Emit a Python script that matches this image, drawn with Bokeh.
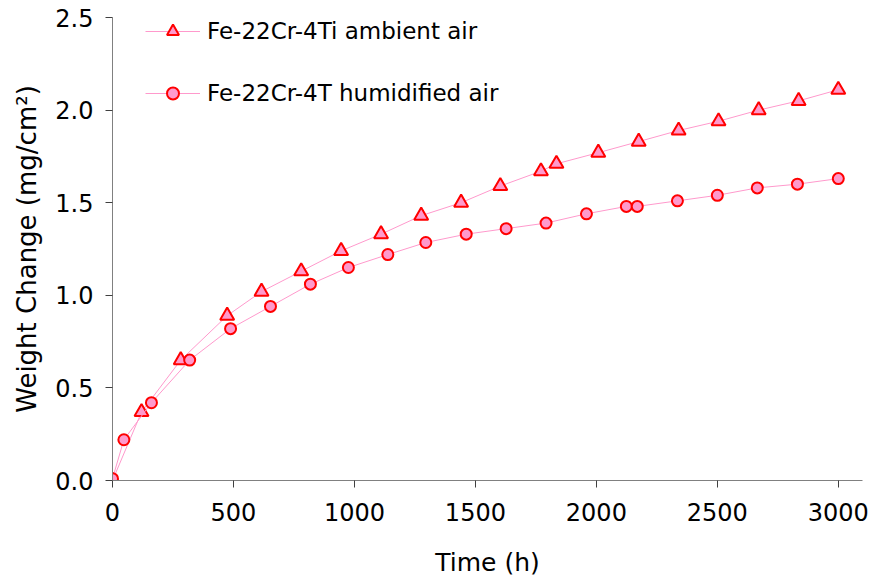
from bokeh.plotting import figure
from bokeh.models import Range1d, FixedTicker, Legend, LegendItem, NumeralTickFormatter
from bokeh.embed import file_html
from bokeh.resources import INLINE

# Oxidation weight gain of Fe-22Cr-4Ti in two atmospheres
time_ambient = [0, 120, 282, 474, 616, 780, 945, 1110, 1276, 1441, 1603, 1771,
                1835, 2008, 2175, 2340, 2505, 2671, 2836, 3000]
gain_ambient = [0.0, 0.37, 0.65, 0.89, 1.02, 1.13, 1.24, 1.33, 1.43, 1.50, 1.59,
                1.67, 1.71, 1.77, 1.83, 1.89, 1.94, 2.00, 2.05, 2.11]

time_humid = [0, 47, 161, 319, 488, 653, 818, 975, 1138, 1295, 1462, 1627, 1792,
              1959, 2124, 2169, 2335, 2500, 2665, 2831, 3000]
gain_humid = [0.01, 0.22, 0.42, 0.65, 0.82, 0.94, 1.06, 1.15, 1.22, 1.285, 1.33,
              1.36, 1.39, 1.44, 1.48, 1.48, 1.51, 1.54, 1.58, 1.60, 1.63]

x_ticks = [0, 500, 1000, 1500, 2000, 2500, 3000]
y_ticks = [0.0, 0.5, 1.0, 1.5, 2.0, 2.5]

label_ambient = "Fe-22Cr-4Ti ambient air"
label_humid = "Fe-22Cr-4T humidified air"

LINE = "#ff99cc"
EDGE = "#ff0000"
FILL = "#ff99cc"
FONT = "DejaVu Sans"

p = figure(width=875, height=582, output_backend="svg", toolbar_location=None,
           x_range=Range1d(0, 3100), y_range=Range1d(0, 2.5),
           min_border_left=112, min_border_right=13,
           min_border_top=17, min_border_bottom=102)
p.outline_line_color = None
p.grid.visible = False
p.background_fill_color = "white"
p.border_fill_color = "white"

l1 = p.line(time_ambient, gain_ambient, line_color=LINE, line_width=1)
s1 = p.scatter(time_ambient, gain_ambient, marker="triangle", size=14,
               fill_color=FILL, line_color=EDGE, line_width=2)
l2 = p.line(time_humid, gain_humid, line_color=LINE, line_width=1)
s2 = p.scatter(time_humid, gain_humid, marker="circle", size=11,
               fill_color=FILL, line_color=EDGE, line_width=2)

for ax in (p.xaxis[0], p.yaxis[0]):
    ax.axis_line_color = "#808080"
    ax.major_tick_line_color = "#404040"
    ax.major_tick_in = 0
    ax.major_tick_out = 7
    ax.minor_tick_line_color = None
    ax.major_label_text_font = FONT
    ax.major_label_text_font_size = "24px"
    ax.major_label_text_color = "black"
    ax.axis_label_text_font = FONT
    ax.axis_label_text_font_size = "25px"
    ax.axis_label_text_font_style = "normal"
    ax.axis_label_text_color = "black"

p.yaxis.axis_label_text_font_size = "26px"
p.xaxis.ticker = FixedTicker(ticks=x_ticks)
p.yaxis.ticker = FixedTicker(ticks=y_ticks)
p.yaxis.formatter = NumeralTickFormatter(format="0.0")
p.xaxis.axis_label = "Time (h)"
p.yaxis.axis_label = "Weight Change (mg/cm²)"
p.xaxis.major_label_standoff = 15
p.yaxis.major_label_standoff = 12
p.xaxis.axis_label_standoff = 24
p.yaxis.axis_label_standoff = 10

legend = Legend(items=[LegendItem(label=label_ambient, renderers=[l1, s1]),
                       LegendItem(label=label_humid, renderers=[l2, s2])],
                location=(33, 372), padding=0, spacing=32,
                glyph_width=55, glyph_height=30, label_height=30,
                label_standoff=7, label_text_font=FONT,
                label_text_font_size="23px", label_text_color="black",
                background_fill_alpha=0, border_line_alpha=0)
p.add_layout(legend)

open("out.html", "w").write(file_html(p, INLINE))
